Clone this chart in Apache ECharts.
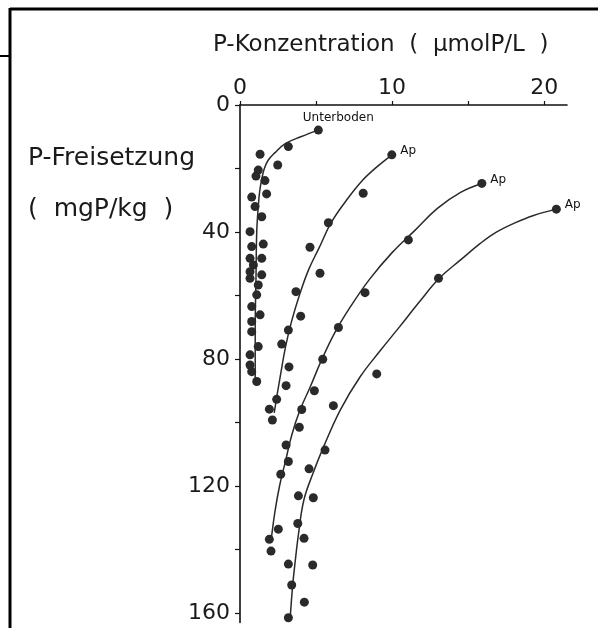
<!DOCTYPE html>
<html>
<head>
<meta charset="utf-8">
<script src="https://cdn.jsdelivr.net/npm/echarts@6/dist/echarts.min.js"></script>
<style>
  html, body { margin: 0; padding: 0; background: #fff; }
  #chart { width: 598px; height: 628px; }
</style>
</head>
<body>
<div id="chart"></div>
<script>
// axis ticks / labels
const xTicks = [0, 5, 10, 15, 20]
const xLabels = [0, 10, 20]
const yTicks = [0, 20, 40, 60, 80, 100, 120, 140, 160]
const yLabels = [0, 40, 80, 120, 160]

// measured points [P-Konzentration, P-Freisetzung]
const unterbodenPoints = [
  [5.15, 7.9], [3.18, 13.1], [1.32, 15.5], [2.48, 18.9], [1.2, 20.5], [1.05, 22.4],
  [1.64, 23.8], [1.75, 28], [0.77, 29], [0.99, 32], [1.43, 35.2], [0.66, 39.9],
  [1.53, 43.8], [0.77, 44.6], [0.66, 48.3], [1.43, 48.3], [0.88, 50.4], [0.66, 52.5],
  [1.43, 53.5], [0.66, 54.6], [1.2, 56.7], [1.1, 59.8], [0.77, 63.5], [1.32, 66.1],
  [0.77, 68.2], [0.77, 71.4], [1.2, 76.1], [0.66, 78.7], [0.66, 81.9], [0.77, 84],
  [1.1, 87.1]
]
const ap1Points = [
  [9.98, 15.7], [8.1, 27.8], [5.81, 37.1], [4.6, 44.8], [5.26, 53], [3.68, 58.8],
  [3.99, 66.5], [3.18, 70.9], [2.74, 75.3], [3.22, 82.5], [3.03, 88.4], [2.41, 92.7],
  [1.93, 95.8], [2.13, 99.2]
]
const ap2Points = [
  [15.9, 24.7], [11.07, 42.5], [8.22, 59.1], [6.47, 70.1], [5.44, 80.1], [4.89, 90],
  [4.06, 95.9], [3.9, 101.5], [3.03, 107.1], [3.18, 112.3], [2.68, 116.3],
  [2.52, 133.6], [1.93, 136.8], [2.04, 140.5]
]
const ap3Points = [
  [20.8, 32.8], [13.05, 54.6], [8.99, 84.7], [6.14, 94.7], [5.59, 108.7], [4.54, 114.6],
  [3.84, 123.1], [4.82, 123.7], [3.8, 131.8], [4.21, 136.5], [3.18, 144.6], [4.78, 144.9],
  [3.4, 151.2], [4.23, 156.6], [3.18, 161.5]
]

// fitted curves (hand drawn in the original)
const unterbodenCurve = [
  [5.15, 7.9], [4.0, 10], [3.0, 12.1], [2.3, 15], [1.85, 17.4], [1.6, 20], [1.45, 22.9],
  [1.3, 27], [1.2, 32], [1.1, 40], [1.05, 55], [1.0, 70], [1.0, 87]
]
const ap1Curve = [
  [10, 15.7], [9, 19.5], [8, 24], [7, 30], [6, 37], [5.2, 45], [4.5, 52], [3.9, 60],
  [3.4, 68], [3.0, 76], [2.7, 84], [2.45, 91], [2.25, 97]
]
const ap2Curve = [
  [15.9, 24.7], [14.5, 27.5], [13, 32.5], [11.5, 39.5], [10, 46.5], [8.5, 55], [7.2, 64],
  [6.2, 72], [5.3, 81], [4.6, 89], [3.95, 96], [3.4, 104], [3.0, 112], [2.6, 120],
  [2.3, 128], [2.05, 137]
]
const ap3Curve = [
  [20.8, 32.8], [19.3, 34.8], [18, 37.3], [16.8, 40.2], [15.8, 43.6], [14.5, 48.8],
  [13.1, 54.6], [11.8, 62], [10.5, 69.8], [9.2, 77.5], [7.9, 85.6], [6.6, 96], [5.5, 107.6],
  [4.8, 116], [4.2, 124.4], [3.85, 135], [3.6, 145], [3.45, 152], [3.3, 161.6]
]

const ink = '#2a2a2a'
const font = 'DejaVu Sans'

const curve = (data) => ({
  type: 'line',
  data: data,
  smooth: 0.4,
  showSymbol: false,
  silent: true,
  lineStyle: { color: '#2a2a2a', width: 1.5 },
})

// first point carries the text label (Unterboden / Ap)
const dots = (data, text, label) => ({
  type: 'scatter',
  symbolSize: 9,
  itemStyle: { color: ink, opacity: 1 },
  data: data.map((p, i) => i === 0 ? {
    value: p,
    label: Object.assign({
      show: true,
      formatter: text,
      color: '#111',
      fontFamily: font,
      fontSize: 12,
    }, label),
  } : p),
})

const myChart = echarts.init(document.getElementById('chart'))
myChart.setOption({
  animation: false,
  backgroundColor: '#fff',
  grid: { left: 240, right: 31, top: 105, bottom: 5.5 },
  xAxis: {
    type: 'value',
    position: 'top',
    min: 0,
    max: 21.5,
    axisLine: { lineStyle: { color: '#111', width: 1.6 } },
    axisTick: { customValues: xTicks, length: 4, lineStyle: { color: '#111', width: 1.2 } },
    axisLabel: {
      customValues: xLabels,
      fontFamily: font,
      fontSize: 22,
      color: '#1a1a1a',
      margin: 6,
    },
    splitLine: { show: false },
  },
  yAxis: {
    type: 'value',
    inverse: true,
    min: 0,
    max: 163,
    axisLine: { lineStyle: { color: '#111', width: 1.6 } },
    axisTick: { customValues: yTicks, length: 5, lineStyle: { color: '#111', width: 1.2 } },
    axisLabel: {
      customValues: yLabels,
      fontFamily: font,
      fontSize: 22,
      color: '#1a1a1a',
      margin: 10,
    },
    splitLine: { show: false },
  },
  graphic: [
    // scan frame
    { type: 'line', shape: { x1: 10, y1: 9, x2: 598, y2: 9 }, style: { stroke: '#000', lineWidth: 3 } },
    { type: 'line', shape: { x1: 10, y1: 8, x2: 10, y2: 628 }, style: { stroke: '#000', lineWidth: 3 } },
    { type: 'line', shape: { x1: 0, y1: 56, x2: 10, y2: 56 }, style: { stroke: '#000', lineWidth: 2 } },
    // axis names
    { type: 'text', left: 213, top: 34, style: { text: 'P-Konzentration  (  µmolP/L  )', font: '23px "DejaVu Sans"', fill: '#1a1a1a' } },
    { type: 'text', left: 28, top: 146, style: { text: 'P-Freisetzung', font: '25px "DejaVu Sans"', fill: '#1a1a1a' } },
    { type: 'text', left: 28, top: 197, style: { text: '(  mgP/kg  )', font: '25px "DejaVu Sans"', fill: '#1a1a1a' } },
  ],
  series: [
    curve(unterbodenCurve),
    curve(ap1Curve),
    curve(ap2Curve),
    curve(ap3Curve),
    dots(unterbodenPoints, 'Unterboden', { position: 'top', offset: [20, 3] }),
    dots(ap1Points, 'Ap', { position: 'right', distance: 4, offset: [0, -4] }),
    dots(ap2Points, 'Ap', { position: 'right', distance: 4, offset: [0, -4] }),
    dots(ap3Points, 'Ap', { position: 'right', distance: 4, offset: [0, -4] }),
  ],
})
</script>
</body>
</html>
